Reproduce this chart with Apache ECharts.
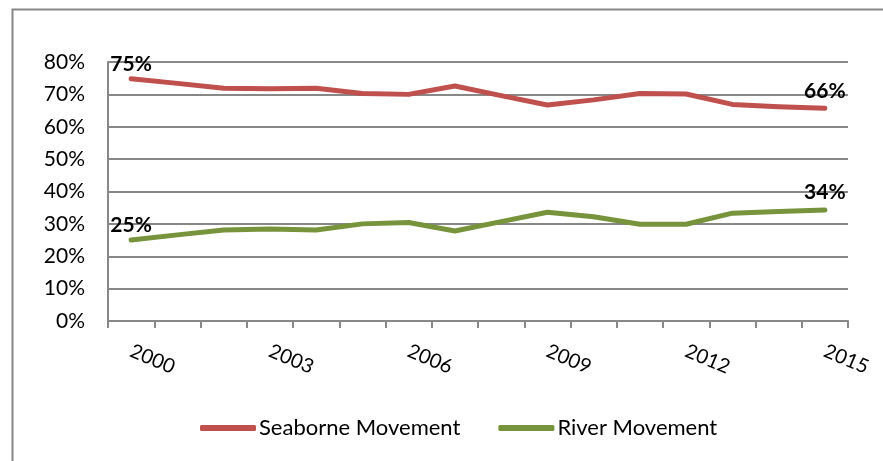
<!DOCTYPE html>
<html>
<head>
<meta charset="utf-8">
<script src="https://cdn.jsdelivr.net/npm/echarts@6/dist/echarts.min.js"></script>
<style>
html,body{margin:0;padding:0;background:#fff;}
#chart{width:883px;height:461px;}
</style>
</head>
<body>
<div id="chart"></div>
<script>
const years = ['2000','2001','2002','2003','2004','2005','2006','2007','2008','2009','2010','2011','2012','2013','2014','2015'];
const seaborne = [74.8, 73.4, 71.9, 71.7, 71.9, 70.3, 70.0, 72.6, 69.6, 66.7, 68.3, 70.3, 70.1, 66.9, 66.2, 65.7];
const river = [25.0, 26.6, 28.1, 28.4, 28.1, 30.0, 30.4, 27.8, 30.7, 33.6, 32.2, 29.9, 29.9, 33.3, 33.8, 34.3];
const seriesNames = ['Seaborne Movement', 'River Movement'];
const colors = ['#C0504D', '#77933C'];

const FONT = 'Lato';

function withEndLabels(arr) {
  return arr.map((v, i) => {
    if (i === 0 || i === arr.length - 1) {
      return {
        value: v,
        label: {
          show: true,
          position: 'top',
          distance: i === 0 ? 4 : 7,
          formatter: Math.round(v) + '%',
          fontFamily: FONT,
          fontWeight: 'bold',
          fontSize: 21,
          color: '#000'
        }
      };
    }
    return v;
  });
}

const chart = echarts.init(document.getElementById('chart'), null, {renderer: 'canvas'});
chart.setOption({
  animation: false,
  backgroundColor: '#fff',
  textStyle: {fontFamily: FONT},
  graphic: [{
    type: 'rect',
    left: 10, top: 7,
    shape: {width: 1000, height: 1000},
    style: {fill: 'none', stroke: '#888', lineWidth: 2},
    silent: true
  }],
  grid: {left: 108, right: 35, top: 62, bottom: 140, containLabel: false},
  legend: {
    left: 195, top: 412,
    itemWidth: 56, itemHeight: 6, itemGap: 38,
    icon: 'roundRect',
    textStyle: {fontFamily: FONT, fontSize: 22, color: '#000', padding: [0, 0, 0, -2]},
    data: seriesNames
  },
  xAxis: {
    type: 'category',
    data: years,
    boundaryGap: true,
    axisLine: {lineStyle: {color: '#888', width: 2}},
    axisTick: {show: true, interval: 0, length: 7, lineStyle: {color: '#888', width: 2}},
    axisLabel: {interval: 2, rotate: -23, margin: 29, fontFamily: FONT, fontSize: 20, color: '#000'},
    splitLine: {show: false}
  },
  yAxis: {
    type: 'value',
    min: 0, max: 80, interval: 10,
    axisLine: {show: true, lineStyle: {color: '#888', width: 2}},
    axisTick: {show: false},
    axisLabel: {formatter: '{value}%', margin: 23, fontFamily: FONT, fontSize: 21, color: '#000'},
    splitLine: {lineStyle: {color: '#888', width: 2}}
  },
  series: [
    {
      name: seriesNames[0], type: 'line',
      data: withEndLabels(seaborne),
      symbol: 'circle', symbolSize: 0.1, showSymbol: true,
      lineStyle: {color: colors[0], width: 5, cap: 'round', join: 'round'},
      itemStyle: {color: colors[0]},
      silent: true
    },
    {
      name: seriesNames[1], type: 'line',
      data: withEndLabels(river),
      symbol: 'circle', symbolSize: 0.1, showSymbol: true,
      lineStyle: {color: colors[1], width: 5, cap: 'round', join: 'round'},
      itemStyle: {color: colors[1]},
      silent: true
    }
  ]
});
</script>
</body>
</html>
